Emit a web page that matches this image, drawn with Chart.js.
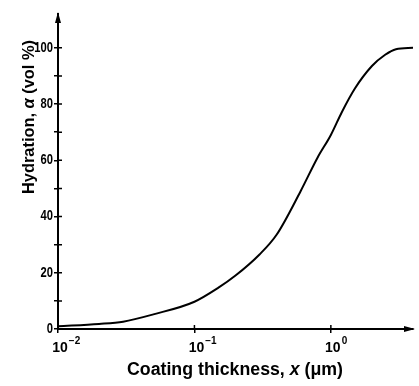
<!DOCTYPE html>
<html>
<head>
<meta charset="utf-8">
<script src="https://cdn.jsdelivr.net/npm/chart.js@4"></script>
<style>
    html, body { margin: 0; padding: 0; background: #fff; }
    #wrap { width: 419px; height: 386px; }
</style>
</head>
<body>
<div id="wrap"><canvas id="hydrationChart"></canvas></div>
<script>
// values
const thickness = [0.01, 0.02, 0.03, 0.05, 0.1, 0.15, 0.2, 0.3, 0.4, 0.6, 0.8, 1.0, 1.2, 1.5, 2.0, 2.5, 3.0, 4.0];
const hydration = [1, 1.8, 2.6, 5.2, 9.7, 14.7, 19, 26.5, 33.5, 49, 61, 69, 77, 85.5, 93.5, 97.5, 99.5, 100];
const xTicks = [0.01, 0.1, 1];
const xTickExponents = ['−2', '−1', '0'];
const yTicks = [0, 10, 20, 30, 40, 50, 60, 70, 80, 90, 100];
const yLabelled = [0, 20, 40, 60, 80, 100];

const FONT = '"Liberation Sans", Arial, sans-serif';

// draw a string made of pieces, some italic, centred on (0,0),
// squeezed to fit the given width when it runs longer
function drawPieces(ctx, pieces, size, maxWidth) {
    let widths = pieces.map(p => {
        ctx.font = (p.italic ? 'italic ' : '') + 'bold ' + size + 'px ' + FONT;
        return ctx.measureText(p.text).width;
    });
    let total = widths.reduce((a, b) => a + b, 0);
    let k = total > maxWidth ? maxWidth / total : 1;
    ctx.scale(k, 1);
    let x = -total / 2;
    pieces.forEach((p, i) => {
        ctx.font = (p.italic ? 'italic ' : '') + 'bold ' + size + 'px ' + FONT;
        ctx.fillText(p.text, x, 0);
        x += widths[i];
    });
}

const axisExtras = {
    id: 'axisExtras',
    afterDraw(chart) {
        const ctx = chart.ctx;
        const xs = chart.scales.x, ys = chart.scales.y;
        const left = chart.chartArea.left, bottom = chart.chartArea.bottom;
        ctx.save();
        ctx.strokeStyle = '#000';
        ctx.fillStyle = '#000';
        ctx.lineWidth = 1.5;
        // inner half of the crossing ticks
        ctx.beginPath();
        ys.ticks.forEach(t => {
            const py = ys.getPixelForValue(t.value);
            ctx.moveTo(left, py);
            ctx.lineTo(left + 4, py);
        });
        xs.ticks.forEach(t => {
            const px = xs.getPixelForValue(t.value);
            ctx.moveTo(px, bottom);
            ctx.lineTo(px, bottom - 4);
        });
        ctx.stroke();
        // arrow heads
        const top = chart.chartArea.top, right = chart.chartArea.right;
        ctx.beginPath();
        ctx.moveTo(left, top - 2);
        ctx.lineTo(left - 3, top + 9);
        ctx.lineTo(left + 3, top + 9);
        ctx.closePath();
        ctx.fill();
        ctx.beginPath();
        ctx.moveTo(right + 2, bottom);
        ctx.lineTo(right - 9, bottom - 3);
        ctx.lineTo(right - 9, bottom + 3);
        ctx.closePath();
        ctx.fill();

        // y tick labels, condensed like the original lettering
        ctx.textAlign = 'right';
        ctx.textBaseline = 'middle';
        ctx.font = 'bold 14px ' + FONT;
        yLabelled.forEach(v => {
            const py = ys.getPixelForValue(v);
            ctx.save();
            ctx.translate(left - 5, py);
            ctx.scale(0.8, 1);
            ctx.fillText(String(v), 0, 0);
            ctx.restore();
        });

        // x tick labels: 10 with a raised exponent
        ctx.textBaseline = 'alphabetic';
        xTicks.forEach((v, i) => {
            const px = xs.getPixelForValue(v);
            ctx.font = 'bold 14px ' + FONT;
            ctx.textAlign = 'center';
            ctx.fillText('10', px + 2, bottom + 23);
            const w = ctx.measureText('10').width;
            ctx.font = 'bold 10px ' + FONT;
            ctx.textAlign = 'left';
            ctx.fillText(xTickExponents[i], px + 2 + w / 2 + 1, bottom + 15);
        });

        // axis titles
        ctx.textBaseline = 'alphabetic';
        ctx.textAlign = 'left';
        ctx.save();
        ctx.translate(34, 117);
        ctx.rotate(-Math.PI / 2);
        drawPieces(ctx, [{text: 'Hydration, '}, {text: 'α', italic: true}, {text: ' (vol %)'}], 17, 154);
        ctx.restore();
        ctx.save();
        ctx.translate(235, 375);
        drawPieces(ctx, [{text: 'Coating thickness, '}, {text: 'x', italic: true}, {text: ' (μm)'}], 18, 216);
        ctx.restore();
        ctx.restore();
    }
};

const ctx = document.getElementById('hydrationChart').getContext('2d');
new Chart(ctx, {
    type: 'line',
    data: {
        datasets: [{
            data: thickness.map((x, i) => ({x: x, y: hydration[i]})),
            borderColor: '#000',
            borderWidth: 2,
            pointRadius: 0,
            fill: false,
            cubicInterpolationMode: 'monotone'
        }]
    },
    options: {
        responsive: true,
        maintainAspectRatio: false,
        animation: false,
        layout: { padding: { top: 14, right: 6, left: 0, bottom: 0 } },
        plugins: { legend: { display: false }, tooltip: { enabled: false } },
        scales: {
            x: {
                type: 'logarithmic',
                min: 0.01,
                max: 4,
                afterBuildTicks: s => { s.ticks = xTicks.map(v => ({value: v})); },
                afterFit: s => { s.height = 57; },
                border: { color: '#000', width: 2 },
                grid: { drawOnChartArea: false, tickLength: 4, color: '#000', lineWidth: 1.5 },
                ticks: { display: false }
            },
            y: {
                min: 0,
                max: 112,
                afterBuildTicks: s => { s.ticks = yTicks.map(v => ({value: v})); },
                afterFit: s => { s.width = 58; },
                border: { color: '#000', width: 2 },
                grid: { drawOnChartArea: false, tickLength: 4, color: '#000', lineWidth: 1.5 },
                ticks: { display: false }
            }
        }
    },
    plugins: [axisExtras]
});
</script>
</body>
</html>
